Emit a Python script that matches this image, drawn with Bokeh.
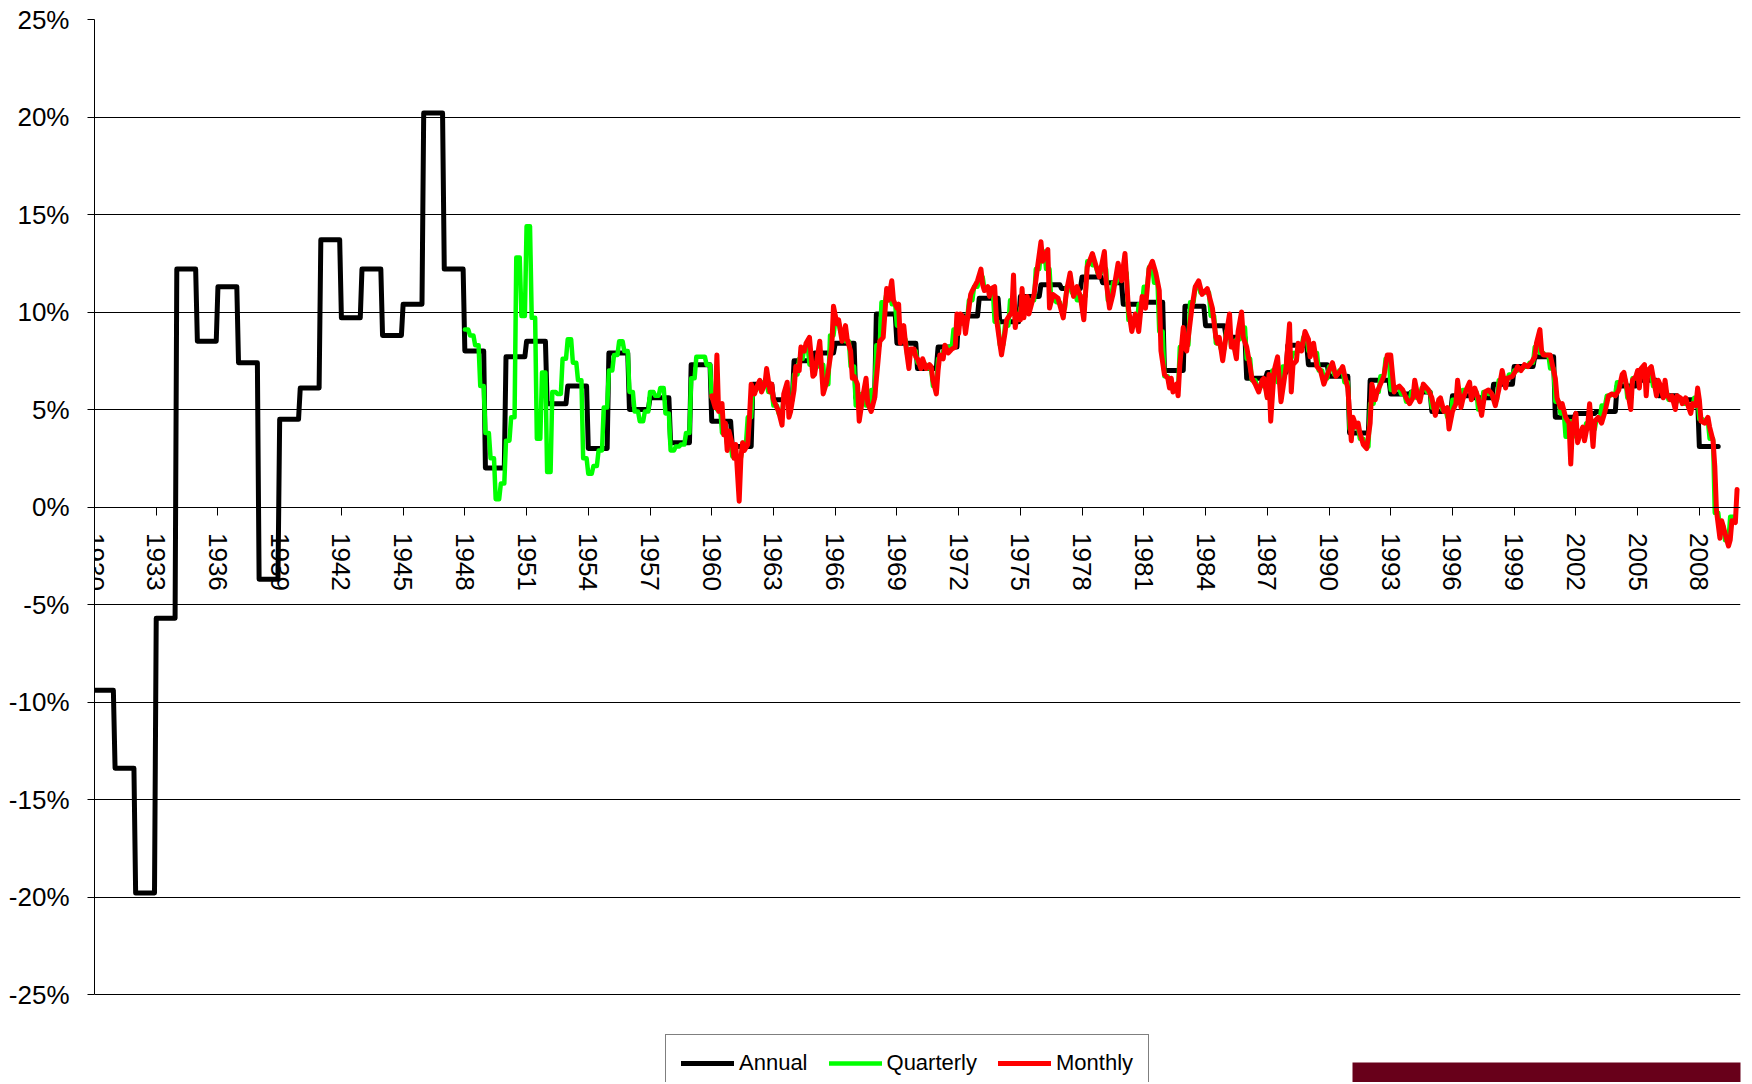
import numpy as np
from bokeh.plotting import figure
from bokeh.models import Range1d, FixedTicker, PrintfTickFormatter, Legend, LegendItem, BoxAnnotation
from bokeh.embed import file_html
from bokeh.resources import INLINE

# ---------------- data ----------------
annual_years = list(range(1930, 2009))
annual_values = [
    -9.4, -13.4, -19.8, -5.7, 12.2, 8.5, 11.3, 7.4, -3.7, 4.5,      # 1930-1939
    6.1, 13.7, 9.7, 12.2, 8.8, 10.4, 20.2, 12.2, 8.0, 2.0,          # 1940-1949
    7.7, 8.5, 5.3, 6.2, 3.0, 7.9, 5.0, 5.6, 3.3, 7.3,               # 1950-1959
    4.4, 3.1, 6.3, 5.5, 7.5, 7.9, 8.4, 5.6, 9.9, 8.4,               # 1960-1969
    7.1, 8.2, 9.8, 10.7, 9.5, 10.8, 11.4, 11.2, 11.8, 11.5,         # 1970-1979
    10.4, 10.5, 7.0, 10.3, 9.3, 8.7, 6.6, 6.9, 8.3, 7.3,            # 1980-1989
    6.7, 3.8, 6.5, 5.8, 5.9, 4.9, 5.7, 5.6, 6.3, 7.2,               # 1990-1999
    7.7, 4.6, 4.8, 4.9, 6.2, 6.5, 5.7, 5.5, 3.1,                    # 2000-2008
]

quarterly_start_year = 1948
quarterly_values = [
    9.1, 8.8, 8.3, 6.2,   3.8, 2.5, 0.4, 1.2,   3.4, 4.6, 12.8, 9.8,   # 1948-1950
    14.4, 9.7, 3.5, 6.9,  1.8, 5.9, 5.8, 7.6,   8.6, 7.4, 6.5, 2.5,    # 1951-1953
    1.7, 2.1, 2.9, 5.1,   7.0, 7.8, 8.5, 8.0,   5.9, 4.9, 4.4, 4.9,    # 1954-1956
    5.9, 5.7, 6.1, 4.8,   2.9, 3.1, 3.2, 3.8,   6.6, 7.7, 7.7, 7.3,    # 1957-1959
    5.6, 5.0, 3.8, 3.2,   2.6, 2.5, 3.3, 4.6,   6.0, 6.2, 6.4, 5.9,    # 1960-1962
    5.2, 4.8, 5.6, 5.6,   6.8, 7.6, 8.2, 7.3,   7.2, 7.3, 6.3, 8.8,    # 1963-1965
    9.5, 9.0, 8.5, 7.2,   5.2, 5.8, 5.2, 6.0,   8.3, 10.5, 11.0, 10.4, # 1966-1968
    9.3, 8.6, 7.8, 8.0,   7.4, 7.3, 7.1, 6.2,   7.6, 8.0, 8.2, 9.1,    # 1969-1971
    9.4, 9.6, 10.6, 11.3, 11.8, 11.2, 11.0, 9.5, 8.3, 9.3, 10.6, 9.6,  # 1972-1974
    10.2, 10.3, 10.6, 12.2, 13.1, 12.2, 10.6, 10.5, 10.2, 11.3, 11.0, 10.6,  # 1975-1977
    10.8, 12.6, 12.4, 12.0, 12.2, 10.6, 11.5, 11.8, 12.0, 9.6, 9.4, 10.4,    # 1978-1980
    11.3, 12.3, 11.5, 9.0, 6.7, 6.2, 6.0, 8.2,   8.3, 10.5, 11.3, 11.0,      # 1981-1983
    11.0, 9.8, 8.4, 8.1,  9.0, 8.2, 8.6, 9.2,   7.6, 6.5, 6.2, 6.2,    # 1984-1986
    5.6, 7.0, 6.4, 7.2,   7.6, 7.9, 8.2, 8.7,   8.0, 7.9, 7.0, 6.6,    # 1987-1989
    7.2, 6.8, 7.0, 6.4,   4.0, 4.1, 3.5, 3.1,   5.3, 5.9, 6.7, 7.6,    # 1990-1992
    6.0, 6.1, 5.8, 5.4,   5.9, 5.6, 6.1, 5.9,   5.1, 5.3, 5.0, 4.6,    # 1993-1995
    5.5, 5.4, 6.0, 6.0,   5.9, 5.0, 5.9, 5.8,   5.5, 6.5, 6.5, 6.8,    # 1996-1998
    7.0, 7.1, 7.2, 7.4,   8.2, 7.9, 7.8, 7.1,   5.4, 4.8, 3.6, 4.4,    # 1999-2001
    3.6, 3.9, 4.3, 4.0,   4.5, 5.2, 5.7, 5.8,   6.4, 6.5, 5.6, 6.6,    # 2002-2004
    6.7, 6.7, 6.8, 6.2,   6.2, 5.9, 5.5, 5.4,   5.5, 5.3, 5.1, 5.6,    # 2005-2007
    4.5, 4.4, 3.5, -0.3,  -1.0, -1.7, -0.5,                            # 2008-2009
]

monthly_start_year = 1960   # month index 0 = Jan 1960
monthly_index = [
    0, 2, 3, 4, 6, 7, 8, 9, 10, 12, 13, 14, 16, 17, 18, 19, 21, 22, 23, 25,
    26, 28, 29, 31, 32, 34, 35, 36, 38, 39, 41, 42, 44, 45, 46, 48, 49, 51, 52, 54,
    55, 57, 59, 60, 63, 65, 67, 70, 71, 73, 74, 76, 78, 79, 81, 82, 83, 85, 86, 88,
    90, 91, 93, 95, 97, 98, 100, 102, 103, 105, 106, 108, 109, 110, 112, 113, 115, 116, 118, 119,
    120, 122, 123, 125, 127, 128, 129, 131, 132, 133, 135, 136, 138, 140, 142, 143, 144, 145, 147, 148,
    150, 151, 152, 155, 157, 158, 159, 161, 162, 163, 165, 166, 168, 169, 171, 172, 175, 176, 177, 178,
    180, 181, 182, 184, 185, 188, 190, 192, 193, 196, 197, 199, 202, 205, 207, 209, 211, 213, 215, 217,
    219, 222, 224, 226, 229, 230, 232, 234, 237, 239, 241, 243, 245, 247, 249, 251, 253, 255, 257, 259,
    261, 262, 264, 266, 267, 268, 269, 271, 272, 273, 275, 276, 277, 280, 282, 284, 286, 289, 292, 294,
    295, 296, 298, 300, 302, 303, 304, 306, 307, 309, 310, 312, 314, 315, 317, 319, 321, 322, 324, 325,
    326, 328, 330, 332, 335, 337, 338, 339, 341, 342, 344, 346, 348, 349, 351, 353, 355, 357, 359, 361,
    362, 364, 366, 368, 369, 371, 373, 374, 376, 377, 378, 380, 382, 384, 385, 387, 388, 390, 392, 394,
    396, 398, 399, 401, 403, 405, 407, 409, 410, 412, 413, 415, 418, 420, 422, 424, 425, 427, 429, 430,
    432, 434, 435, 437, 438, 440, 442, 443, 445, 447, 449, 451, 453, 455, 457, 459, 461, 463, 464, 467,
    469, 470, 472, 474, 476, 478, 480, 481, 483, 484, 485, 487, 489, 490, 492, 493, 495, 496, 498, 500,
    501, 502, 504, 505, 506, 508, 509, 511, 512, 514, 515, 517, 519, 521, 523, 525, 527, 529, 531, 532,
    534, 536, 537, 539, 540, 541, 542, 544, 545, 546, 548, 549, 551, 552, 553, 555, 556, 557, 559, 560,
    562, 563, 565, 566, 568, 569, 571, 572, 574, 575, 576, 577, 579, 581, 582, 584, 585, 586, 588, 589,
    590, 592, 593, 594, 595, 597, 598,
]
monthly_values = [
    5.7, 5.1, 7.8, 4.9, 5.3, 3.7, 4.3, 2.9, 3.9, 3.2, 2.5, 3.2, 0.3, 2.5, 3.3, 2.9, 3.2, 4.6, 6.3, 5.8,
    6.1, 6.5, 5.9, 6.3, 7.1, 5.9, 6.3, 5.5, 5.1, 4.9, 4.2, 5.8, 6.4, 4.6, 4.9, 6.0, 7.2, 7.0, 8.2, 8.0,
    8.4, 8.7, 6.7, 6.8, 8.5, 5.8, 6.4, 8.2, 10.3, 9.4, 9.6, 8.5, 9.3, 8.6, 8.0, 6.6, 6.7, 6.3, 4.4, 5.6,
    6.6, 5.3, 4.9, 5.6, 7.5, 8.5, 8.7, 11.2, 10.6, 11.6, 10.6, 10.2, 10.4, 8.4, 9.3, 8.4, 7.1, 8.1, 8.1, 7.7,
    7.6, 7.1, 7.6, 7.1, 7.3, 7.2, 6.5, 5.8, 7.0, 7.8, 7.6, 8.3, 7.9, 8.1, 8.2, 9.9, 8.9, 9.9, 9.7, 8.9,
    10.2, 10.9, 11.1, 11.6, 12.2, 11.4, 11.1, 11.3, 10.8, 11.2, 11.3, 9.7, 8.4, 7.8, 8.9, 9.6, 10.0, 11.9, 9.2, 9.9,
    9.6, 11.2, 9.7, 10.8, 9.9, 10.9, 12.3, 13.6, 12.6, 13.2, 10.2, 10.9, 10.7, 9.7, 11.1, 12.0, 10.8, 11.3, 10.8, 9.6,
    12.3, 13.0, 12.4, 11.8, 13.1, 11.6, 10.2, 10.9, 12.5, 11.6, 13.0, 10.2, 9.0, 9.9, 9.0, 10.8, 10.2, 12.2, 12.6, 12.0,
    11.1, 8.0, 6.8, 6.6, 6.1, 6.6, 5.9, 6.3, 5.7, 7.3, 9.2, 8.2, 8.0, 10.2, 11.3, 11.6, 10.9, 11.2, 10.2, 8.7,
    8.4, 8.7, 7.5, 8.8, 9.9, 8.2, 8.5, 7.6, 9.0, 10.0, 8.7, 8.2, 7.2, 6.6, 6.3, 5.9, 6.5, 6.6, 5.6, 6.8,
    4.4, 7.0, 7.7, 5.4, 7.2, 9.4, 5.9, 7.3, 7.5, 8.4, 8.0, 9.0, 8.6, 7.7, 8.4, 7.2, 7.0, 6.3, 6.8, 7.2,
    7.4, 6.7, 6.9, 7.2, 6.8, 6.1, 3.4, 4.6, 4.1, 4.3, 3.8, 3.2, 3.0, 4.3, 6.3, 5.5, 5.9, 6.3, 6.7, 7.8,
    7.8, 5.9, 6.1, 6.2, 6.0, 5.6, 5.3, 5.6, 6.5, 5.6, 5.4, 6.3, 6.0, 5.6, 4.7, 5.5, 5.6, 4.9, 5.1, 4.0,
    4.9, 5.3, 6.5, 5.1, 5.5, 6.0, 6.4, 5.5, 6.1, 5.6, 4.7, 5.9, 6.0, 5.8, 5.2, 6.0, 7.0, 6.1, 6.6, 6.7,
    7.0, 7.2, 7.0, 7.3, 7.2, 7.4, 7.7, 8.4, 9.1, 8.0, 7.8, 7.8, 7.8, 7.4, 6.6, 5.6, 5.1, 5.3, 4.6, 4.3,
    2.2, 4.1, 4.8, 3.3, 3.6, 4.1, 3.4, 4.3, 5.3, 3.1, 4.4, 4.6, 4.3, 4.9, 5.7, 5.8, 5.7, 6.0, 6.8, 6.9,
    6.0, 5.0, 6.5, 6.7, 7.0, 6.1, 7.1, 7.3, 5.7, 7.0, 7.2, 6.7, 5.7, 6.5, 6.3, 5.6, 6.5, 5.8, 5.5, 5.7,
    5.0, 5.7, 5.6, 5.3, 5.6, 5.3, 4.8, 5.3, 5.2, 6.1, 5.5, 4.4, 4.3, 4.6, 4.1, 3.4, 2.1, -0.2, -1.6, -0.7,
    -1.0, -1.7, -2.0, -1.7, -0.7, -0.8, 0.9,
]

x_ticks = list(range(1930, 2009, 3))
y_ticks = list(range(-25, 30, 5))
series_names = ["Annual", "Quarterly", "Monthly"]
series_colors = ["#000000", "#00FF00", "#FF0000"]

# ---------------- shape the series as the spreadsheet did (values held per month) ----------------
ann_x, ann_y = [], []
for yr, v in zip(annual_years, annual_values):
    ann_x += [yr, yr + 11 / 12]
    ann_y += [v, v]

q_x, q_y = [], []
for i, v in enumerate(quarterly_values):
    t = quarterly_start_year + i / 4
    q_x += [t, t + 2 / 12]
    q_y += [v, v]

m_x = list(monthly_start_year + np.array(monthly_index) / 12.0)
m_y = monthly_values

# ---------------- figure ----------------
# The frame runs to the bottom of the canvas so the legend (below the -25% line) is not clipped;
# the value axis itself is bounded to -25%..25%.
W, H = 1750, 1082
LEFT, TOP, RIGHT = 94, 19, 10
frame_h = H - TOP
px_per_unit = 975 / 50.0
y_bottom = 25 - frame_h / px_per_unit

FONT = "Liberation Sans"
p = figure(
    width=W, height=H,
    min_border_left=LEFT, min_border_right=RIGHT, min_border_top=TOP, min_border_bottom=0,
    x_range=Range1d(1930, 2010), y_range=Range1d(y_bottom, 25),
    output_backend="svg", toolbar_location=None,
    background_fill_color="white", border_fill_color="white",
)
p.outline_line_color = None

# y axis
yax = p.yaxis[0]
yax.bounds = (-25, 25)
yax.ticker = FixedTicker(ticks=y_ticks)
yax.formatter = PrintfTickFormatter(format="%d%%")
yax.major_label_text_font = FONT
yax.major_label_text_font_size = "26px"
yax.major_label_text_color = "black"
yax.major_tick_out = 7
yax.major_tick_in = 0
yax.minor_tick_out = 0
yax.minor_tick_in = 0
yax.major_label_standoff = 18
yax.axis_line_color = "black"
yax.major_tick_line_color = "black"

# x axis crossing at 0%
xax = p.xaxis[0]
xax.fixed_location = 0
xax.ticker = FixedTicker(ticks=x_ticks)
xax.formatter = PrintfTickFormatter(format="%d")
xax.major_label_orientation = "vertical"
xax.major_label_text_font = FONT
xax.major_label_text_font_size = "26px"
xax.major_label_text_color = "black"
xax.major_tick_out = 8
xax.major_tick_in = 0
xax.minor_tick_out = 0
xax.minor_tick_in = 0
xax.major_label_standoff = 18
xax.axis_line_color = "black"
xax.major_tick_line_color = "black"

p.xgrid.visible = False
p.ygrid.ticker = FixedTicker(ticks=y_ticks)
p.ygrid.grid_line_color = "#000000"
p.ygrid.grid_line_width = 1

r_ann = p.line(ann_x, ann_y, line_color=series_colors[0], line_width=5, line_join="round", line_cap="round")
r_q = p.line(q_x, q_y, line_color=series_colors[1], line_width=4.5, line_join="round", line_cap="round")
r_m = p.line(m_x, m_y, line_color=series_colors[2], line_width=5, line_join="round", line_cap="round")

legend = Legend(
    items=[LegendItem(label=series_names[0], renderers=[r_ann]),
           LegendItem(label=series_names[1], renderers=[r_q]),
           LegendItem(label=series_names[2], renderers=[r_m])],
    orientation="horizontal",
    location=(571, -10),
    padding=15, spacing=21, margin=0,
    glyph_width=53, glyph_height=20, label_standoff=5,
    label_text_font=FONT, label_text_font_size="22px", label_text_color="black",
    border_line_color="black", border_line_width=1,
    background_fill_color="white", background_fill_alpha=1,
)
p.add_layout(legend, "center")

footer_bar = BoxAnnotation(left=1352, right=1750, top=1062, bottom=1082,
                           left_units="canvas", right_units="canvas",
                           top_units="canvas", bottom_units="canvas",
                           fill_color="#68001A", fill_alpha=1, line_color=None)
p.add_layout(footer_bar)

open("out.html", "w").write(file_html(p, INLINE))
